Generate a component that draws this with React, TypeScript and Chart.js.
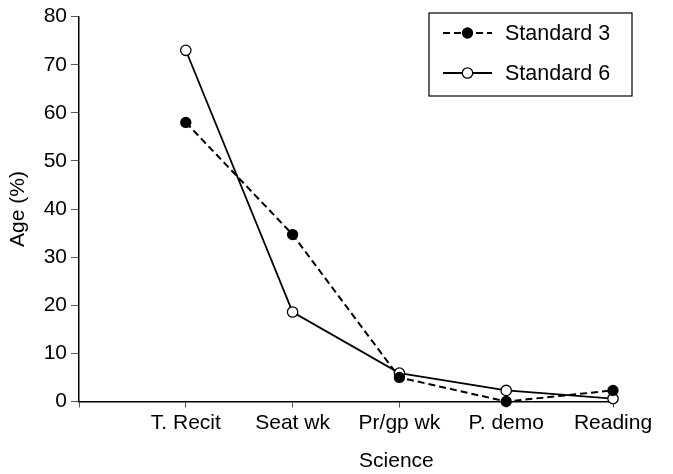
import React, { useEffect, useRef } from "react";
import { Chart, registerables } from "chart.js";

Chart.register(...registerables);

const categories = ["", "T. Recit", "Seat wk", "Pr/gp wk", "P. demo", "Reading"];
const standard3 = [58, 34.7, 5.0, 0, 2.3];
const standard6 = [73, 18.6, 5.9, 2.3, 0.6];
const yTicks = [0, 10, 20, 30, 40, 50, 60, 70, 80];
const seriesNames = ["Standard 3", "Standard 6"];
const xTitle = "Science";
const yTitle = "Age (%)";

const FONT = "'Liberation Sans', Arial, Helvetica, sans-serif";
const FS = 21;

export default function App() {
  const ref = useRef<HTMLCanvasElement | null>(null);
  useEffect(() => {
    document.body.style.margin = "0";
    const canvas = ref.current!;
    const toPts = (arr: number[]) => arr.map((v, i) => ({ x: i + 1, y: v }));

    const legendPlugin = {
      id: "boxLegend",
      afterDraw(chart: any) {
        const ctx = chart.ctx;
        const xs = chart.scales.x;
        ctx.save();
        // x-axis title centred under labelled categories
        ctx.fillStyle = "#000";
        ctx.font = `${FS}px ${FONT}`;
        ctx.textAlign = "center";
        ctx.textBaseline = "middle";
        ctx.fillText(xTitle, xs.getPixelForValue(3) - 3, 461);

        // legend box
        const bx = 429, by = 13, bw = 203, bh = 83;
        ctx.strokeStyle = "#000";
        ctx.lineWidth = 1.2;
        ctx.strokeRect(bx, by, bw, bh);
        chart.data.datasets.forEach((ds: any, i: number) => {
          const y = 33 + i * 40;
          ctx.beginPath();
          ctx.setLineDash(ds.borderDash || []);
          ctx.lineWidth = ds.borderWidth;
          ctx.strokeStyle = "#000";
          ctx.moveTo(443, y);
          ctx.lineTo(492, y);
          ctx.stroke();
          ctx.setLineDash([]);
          ctx.beginPath();
          ctx.arc(467.5, y, ds.pointRadius, 0, Math.PI * 2);
          ctx.fillStyle = ds.pointBackgroundColor;
          ctx.fill();
          ctx.lineWidth = ds.pointBorderWidth;
          ctx.stroke();
          ctx.fillStyle = "#000";
          ctx.textAlign = "left";
          ctx.textBaseline = "middle";
          ctx.font = `${FS + 0.5}px ${FONT}`;
          ctx.fillText(ds.label, 505, y + 1);
        });
        ctx.restore();
      },
    };

    const chart = new Chart(canvas, {
      type: "line",
      data: {
        datasets: [
          {
            label: seriesNames[0],
            data: toPts(standard3),
            borderColor: "#000",
            borderWidth: 2,
            borderDash: [7, 4],
            pointRadius: 5,
            pointBackgroundColor: "#000",
            pointBorderColor: "#000",
            pointBorderWidth: 1.3,
            clip: false,
          },
          {
            label: seriesNames[1],
            data: toPts(standard6),
            borderColor: "#000",
            borderWidth: 1.8,
            pointRadius: 5.2,
            pointBackgroundColor: "#fff",
            pointBorderColor: "#000",
            pointBorderWidth: 1.3,
            clip: false,
          },
        ],
      },
      options: {
        responsive: false,
        animation: false,
        layout: { padding: { top: 15, right: 60, left: 0, bottom: 0 } },
        plugins: { legend: { display: false }, tooltip: { enabled: false } },
        scales: {
          x: {
            type: "linear",
            min: 0,
            max: categories.length - 1,
            afterBuildTicks: (s: any) => {
              s.ticks = categories.map((_, i) => ({ value: i }));
            },
            afterFit: (s: any) => {
              s.height = 72.5;
            },
            ticks: {
              color: "#000",
              font: { family: FONT, size: FS },
              padding: 3,
              maxRotation: 0,
              autoSkip: false,
              callback: (v: any) => categories[v as number] ?? "",
            },
            grid: {
              display: true,
              drawOnChartArea: false,
              drawTicks: true,
              tickLength: 6,
              color: "#555",
              lineWidth: 1,
            },
            border: { display: true, color: "#000", width: 1.5 },
          },
          y: {
            min: 0,
            max: 80,
            afterBuildTicks: (s: any) => {
              s.ticks = yTicks.map((v) => ({ value: v }));
            },
            afterFit: (s: any) => {
              s.width = 79;
            },
            ticks: {
              color: "#000",
              font: { family: FONT, size: FS },
              padding: 4,
            },
            grid: {
              display: true,
              drawOnChartArea: false,
              drawTicks: true,
              tickLength: 8,
              color: "#555",
              lineWidth: 1,
            },
            border: { display: true, color: "#000", width: 1.5 },
            title: {
              display: true,
              text: yTitle,
              color: "#000",
              font: { family: FONT, size: FS },
              padding: { top: 6, bottom: 2 },
            },
          },
        },
      },
      plugins: [legendPlugin],
    });
    return () => chart.destroy();
  }, []);
  return <canvas ref={ref} width={673} height={474} style={{ display: "block" }} />;
}
